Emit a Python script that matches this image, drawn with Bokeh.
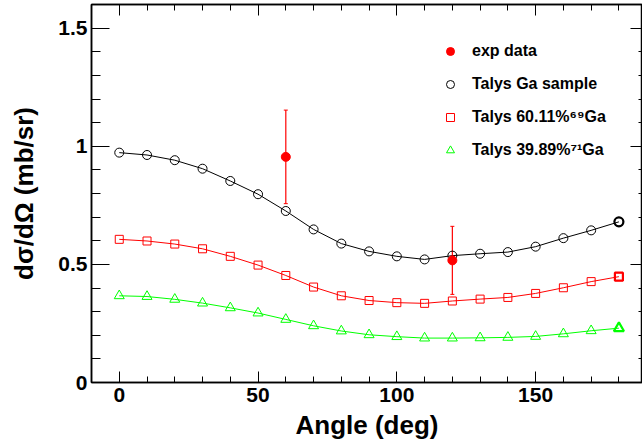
from bokeh.plotting import figure
from bokeh.models import (ColumnDataSource, FixedTicker, LinearAxis, Legend, LegendItem,
                          Whisker, TeeHead, Range1d)
from bokeh.embed import file_html
from bokeh.resources import INLINE

# ---- data ----
angles = [0, 10, 20, 30, 40, 50, 60, 70, 80, 90, 100, 110, 120, 130, 140, 150, 160, 170, 180]
talys_ga = [0.973, 0.963, 0.941, 0.905, 0.853, 0.797, 0.726, 0.648, 0.588, 0.555,
            0.534, 0.521, 0.537, 0.545, 0.552, 0.575, 0.611, 0.644, 0.680]
talys_69 = [0.606, 0.599, 0.586, 0.566, 0.534, 0.497, 0.453, 0.404, 0.367, 0.347,
            0.338, 0.335, 0.345, 0.353, 0.360, 0.377, 0.401, 0.427, 0.448]
talys_71 = [0.367, 0.364, 0.352, 0.336, 0.316, 0.294, 0.267, 0.240, 0.218, 0.202,
            0.194, 0.188, 0.188, 0.189, 0.191, 0.195, 0.206, 0.219, 0.230]
exp_angles = [60, 120]
exp_values = [0.955, 0.517]
exp_errors = [0.198, 0.144]

x_major = [0, 50, 100, 150]
x_minor = list(range(-10, 191, 10))
y_major = [0, 0.5, 1, 1.5]
y_minor = [round(0.1 * i, 1) for i in range(0, 17)]
y_tick_labels = ["0", "0.5", "1", "1.5"]
x_tick_labels = ["0", "50", "100", "150"]
legend_labels = ["exp data", "Talys Ga sample", "Talys 60.11%\u2076\u2079Ga", "Talys 39.89%\u2077\u00b9Ga"]

FONT = "Liberation Sans"

p = figure(width=642, height=446, output_backend="svg", toolbar_location=None,
           x_range=Range1d(-10, 188.5), y_range=Range1d(0, 1.6),
           x_axis_label="Angle (deg)", y_axis_label="d\u03c3/d\u03a9 (mb/sr)",
           min_border_left=91, min_border_right=0, min_border_top=4, min_border_bottom=64)
p.background_fill_color = "white"
p.border_fill_color = "white"
p.grid.visible = False
p.outline_line_color = "black"
p.outline_line_width = 1.5

def style_axis(ax, tick_in, minor_in):
    ax.major_tick_in = tick_in
    ax.major_tick_out = 0
    ax.minor_tick_in = minor_in
    ax.minor_tick_out = 0
    ax.major_tick_line_color = "black"
    ax.minor_tick_line_color = "black"
    ax.axis_line_color = "black"
    ax.axis_line_width = 1.5
    ax.major_label_text_font = FONT
    ax.major_label_text_font_style = "bold"
    ax.major_label_text_color = "black"
    ax.axis_label_text_font = FONT
    ax.axis_label_text_font_style = "bold"
    ax.axis_label_text_color = "black"

xax = p.xaxis[0]
yax = p.yaxis[0]
xax.ticker = FixedTicker(ticks=x_major, minor_ticks=x_minor)
yax.ticker = FixedTicker(ticks=y_major, minor_ticks=y_minor)
xax.major_label_overrides = {v: s for v, s in zip(x_major, x_tick_labels)}
yax.major_label_overrides = {v: s for v, s in zip(y_major, y_tick_labels)}
style_axis(xax, 11, 6)
style_axis(yax, 18, 9)
xax.major_label_text_font_size = "21px"
yax.major_label_text_font_size = "21px"
xax.axis_label_text_font_size = "26px"
yax.axis_label_text_font_size = "26px"
xax.major_label_standoff = 5
yax.major_label_standoff = 4
xax.axis_label_standoff = 5
yax.axis_label_standoff = 16

# top and right axes: ticks only
top = LinearAxis(ticker=FixedTicker(ticks=x_major, minor_ticks=x_minor))
style_axis(top, 11, 6)
top.major_label_overrides = {v: "" for v in x_major}
top.major_label_standoff = 0
p.add_layout(top, "above")
right = LinearAxis(ticker=FixedTicker(ticks=y_major, minor_ticks=y_minor))
style_axis(right, 12, 4)
right.major_label_overrides = {v: "" for v in y_major}
right.major_label_standoff = 0
right.axis_line_color = None
p.add_layout(right, "right")

# ---- series ----
src_th = ColumnDataSource(dict(x=angles, ga=talys_ga, g69=talys_69, g71=talys_71))
src_last = ColumnDataSource(dict(x=angles[-1:], ga=talys_ga[-1:], g69=talys_69[-1:], g71=talys_71[-1:]))

p.line("x", "ga", source=src_th, line_color="black", line_width=1)
p.line("x", "g69", source=src_th, line_color="#ff0000", line_width=1)
p.line("x", "g71", source=src_th, line_color="#00ff00", line_width=1)

r_ga = p.scatter("x", "ga", source=src_th, marker="circle", size=9, fill_color="white",
                 fill_alpha=0, line_color="black", line_width=1)
r_69 = p.scatter("x", "g69", source=src_th, marker="square", size=8, fill_color="white",
                 fill_alpha=0, line_color="#ff0000", line_width=1)
r_71 = p.scatter("x", "g71", source=src_th, marker="triangle", size=10, fill_color="white",
                 fill_alpha=0, line_color="#00ff00", line_width=1)
p.scatter("x", "ga", source=src_last, marker="circle", size=9, fill_alpha=0, line_color="black", line_width=2.2)
p.scatter("x", "g69", source=src_last, marker="square", size=8, fill_alpha=0, line_color="#ff0000", line_width=2.2)
p.scatter("x", "g71", source=src_last, marker="triangle", size=10, fill_alpha=0, line_color="#00ff00", line_width=2.2)

exp_src = ColumnDataSource(dict(x=exp_angles, y=exp_values,
                                lo=[v - e for v, e in zip(exp_values, exp_errors)],
                                hi=[v + e for v, e in zip(exp_values, exp_errors)]))
wh = Whisker(source=exp_src, base="x", lower="lo", upper="hi", dimension="height",
             line_color="#ff0000", line_width=1.2,
             upper_head=TeeHead(size=4, line_color="#ff0000", line_width=1),
             lower_head=TeeHead(size=4, line_color="#ff0000", line_width=1))
p.add_layout(wh)
r_exp = p.scatter("x", "y", source=exp_src, marker="circle", size=9, fill_color="#ff0000",
                  line_color="#ff0000")

legend = Legend(items=[LegendItem(label=legend_labels[0], renderers=[r_exp]),
                       LegendItem(label=legend_labels[1], renderers=[r_ga]),
                       LegendItem(label=legend_labels[2], renderers=[r_69]),
                       LegendItem(label=legend_labels[3], renderers=[r_71])],
                location=(349, 222), orientation="vertical")
legend.padding = 0
legend.margin = 0
legend.spacing = 13
legend.glyph_width = 20
legend.glyph_height = 20
legend.label_height = 20
legend.label_standoff = 12
legend.label_text_font = FONT
legend.label_text_font_style = "bold"
legend.label_text_font_size = "16px"
legend.label_text_color = "black"
legend.border_line_color = None
legend.background_fill_alpha = 0
p.add_layout(legend)

open("out.html", "w").write(file_html(p, INLINE))
